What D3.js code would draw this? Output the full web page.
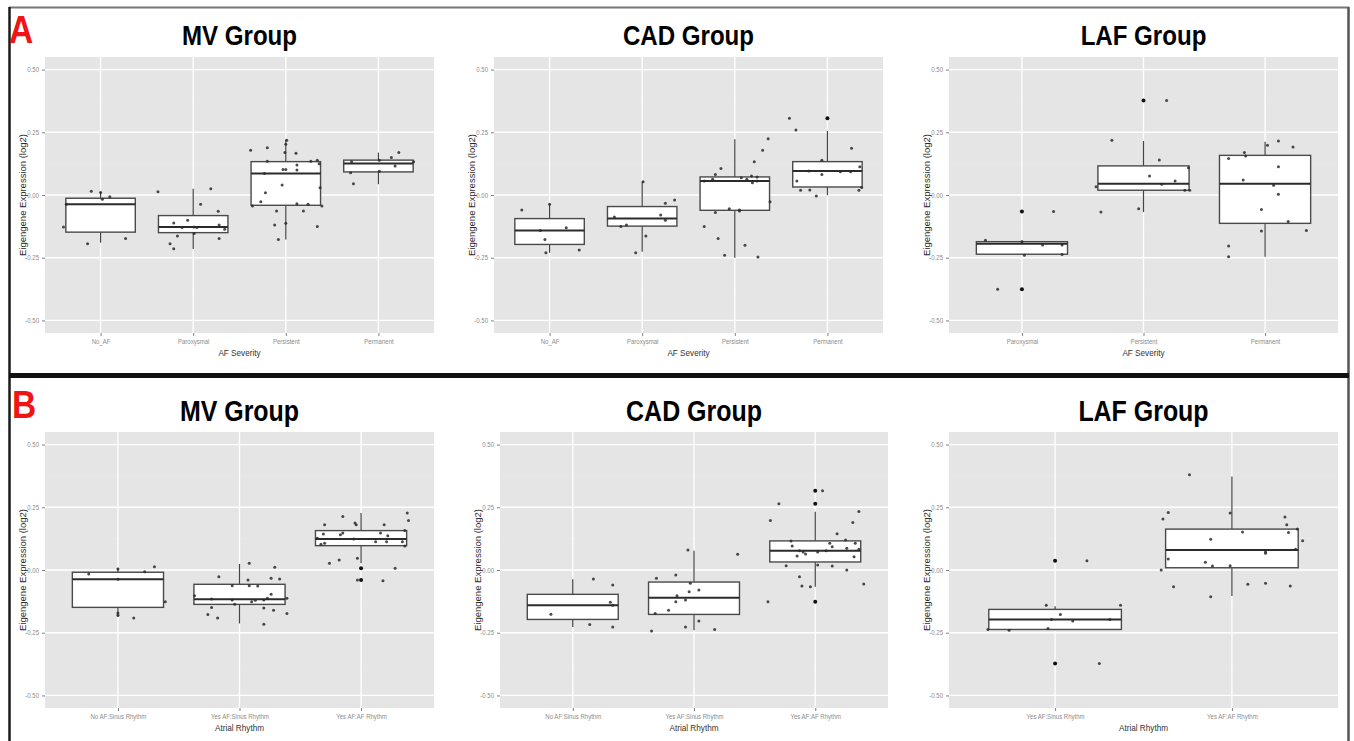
<!DOCTYPE html>
<html>
<head>
<meta charset="utf-8">
<script src="https://cdn.jsdelivr.net/npm/d3@7"></script>
<style>
body { margin: 0; background: #fff; }
svg text { font-family: "Liberation Sans", Arial, sans-serif; }
</style>
</head>
<body>
<div id="chart"></div>
<script>

// categories
var sevCats = ["No_AF", "Paroxysmal", "Persistent", "Permanent"];
var sevCatsLaf = ["Paroxysmal", "Persistent", "Permanent"];
var rhyCats = ["No AF:Sinus Rhythm", "Yes AF:Sinus Rhythm", "Yes AF:AF Rhythm"];
var rhyCatsLaf = ["Yes AF:Sinus Rhythm", "Yes AF:AF Rhythm"];
var yTicks = [-0.5, -0.25, 0, 0.25, 0.5];
var yMinor = [-0.375, -0.125, 0.125, 0.375];

// box stats per category: [lower whisker, q1, median, q3, upper whisker]
var aMvBox = [[-0.190, -0.148, -0.037, -0.013, 0.013], [-0.215, -0.150, -0.128, -0.082, 0.025],
  [-0.177, -0.041, 0.086, 0.133, 0.220], [0.043, 0.092, 0.126, 0.139, 0.169]];
var aCadBox = [[-0.230, -0.197, -0.141, -0.094, -0.037], [-0.226, -0.124, -0.094, -0.046, 0.053],
  [-0.250, -0.061, 0.056, 0.072, 0.222], [-0.001, 0.032, 0.096, 0.133, 0.255]];
var aLafBox = [[-0.236, -0.236, -0.194, -0.186, -0.180], [-0.068, 0.019, 0.045, 0.116, 0.215],
  [-0.246, -0.113, 0.045, 0.158, 0.212]];
var bMvBox = [[-0.187, -0.149, -0.037, -0.009, 0.009], [-0.213, -0.137, -0.117, -0.057, 0.024],
  [0.027, 0.097, 0.124, 0.157, 0.227]];
var bCadBox = [[-0.227, -0.197, -0.140, -0.097, -0.037], [-0.240, -0.177, -0.111, -0.048, 0.077],
  [-0.067, 0.032, 0.077, 0.116, 0.232]];
var bLafBox = [[-0.240, -0.237, -0.197, -0.157, -0.144], [-0.104, 0.009, 0.080, 0.163, 0.373]];

// outliers: [category index, value]
var aMvOut = [];
var aCadOut = [[3, 0.306]];
var aLafOut = [[0, -0.066], [0, -0.376], [1, 0.377]];
var bMvOut = [[2, 0.007], [2, -0.040]];
var bCadOut = [[2, 0.316], [2, 0.264], [2, -0.127]];
var bLafOut = [[0, 0.037], [0, -0.373]];

// jittered samples: [category index, jitter (in category steps), value]
var aMvPts = [
  [0,-0.10,0.015],[0,0.0,0.010],[0,0.02,-0.017],[0,0.10,-0.007],[0,-0.37,-0.037],[0,-0.40,-0.128],[0,-0.14,-0.194],[0,0.27,-0.173],
  [1,-0.38,0.013],[1,0.19,0.025],[1,0.08,-0.037],[1,0.27,-0.065],[1,-0.06,-0.101],[1,-0.21,-0.112],[1,-0.12,-0.130],[1,0.01,-0.128],
  [1,0.04,-0.130],[1,0.28,-0.120],[1,0.34,-0.137],[1,0.01,-0.153],[1,-0.17,-0.163],[1,-0.25,-0.194],[1,-0.21,-0.214],[1,0.28,-0.173],
  [2,0.01,0.218],[2,0.0,0.202],[2,-0.38,0.178],[2,-0.20,0.188],[2,-0.01,0.169],[2,0.11,0.166],[2,-0.20,0.135],[2,0.27,0.135],
  [2,0.34,0.138],[2,0.36,0.125],[2,-0.03,0.102],[2,0.0,0.102],[2,0.12,0.120],[2,0.12,0.100],[2,-0.23,0.086],[2,-0.04,0.040],
  [2,0.37,0.029],[2,-0.22,0.009],[2,-0.27,-0.027],[2,-0.36,-0.044],[2,0.12,-0.035],[2,0.24,-0.037],[2,0.39,-0.044],[2,-0.10,-0.064],
  [2,0.19,-0.064],[2,-0.12,-0.120],[2,0.0,-0.113],[2,0.34,-0.126],[2,-0.08,-0.177],
  [3,0.22,0.169],[3,0.14,0.149],[3,0.01,0.138],[3,-0.29,0.133],[3,0.38,0.133],[3,0.18,0.116],[3,-0.30,0.089],[3,0.01,0.095],[3,-0.27,0.045]
];
var aCadPts = [
  [0,-0.30,-0.060],[0,0.0,-0.037],[0,-0.10,-0.141],[0,0.18,-0.131],[0,-0.05,-0.177],[0,-0.04,-0.230],[0,0.32,-0.219],
  [1,0.01,0.053],[1,0.35,-0.020],[1,0.25,-0.033],[1,-0.30,-0.088],[1,0.20,-0.080],[1,0.25,-0.101],[1,-0.23,-0.126],[1,-0.17,-0.120],
  [1,0.04,-0.163],[1,-0.07,-0.230],
  [2,0.36,0.224],[2,0.30,0.178],[2,0.21,0.133],[2,-0.15,0.106],[2,-0.21,0.082],[2,-0.24,0.063],[2,-0.33,0.056],[2,0.07,0.069],
  [2,0.13,0.063],[2,0.18,0.076],[2,0.24,0.072],[2,0.24,0.056],[2,0.19,0.049],[2,0.38,-0.027],[2,-0.21,-0.070],[2,-0.06,-0.055],
  [2,0.05,-0.064],[2,0.05,-0.060],[2,-0.33,-0.126],[2,-0.18,-0.173],[2,0.11,-0.200],[2,-0.11,-0.240],[2,0.25,-0.247],
  [3,-0.41,0.306],[3,-0.34,0.259],[3,0.26,0.186],[3,-0.06,0.138],[3,-0.20,0.096],[3,-0.06,0.082],[3,0.14,0.093],[3,0.25,0.093],
  [3,0.35,0.113],[3,-0.33,0.056],[3,-0.29,0.019],[3,-0.19,0.020],[3,-0.12,-0.004],[3,0.34,0.019],[3,0.37,0.030]
];
var aLafPts = [
  [0,0.26,-0.066],[0,-0.30,-0.180],[0,0.0,-0.186],[0,0.17,-0.199],[0,0.33,-0.199],[0,0.02,-0.240],[0,0.33,-0.237],[0,-0.20,-0.376],
  [1,0.19,0.377],[1,-0.26,0.218],[1,0.13,0.139],[1,0.37,0.109],[1,0.05,0.076],[1,0.26,0.056],[1,0.15,0.043],[1,-0.39,0.033],
  [1,0.34,0.019],[1,0.38,0.019],[1,-0.35,-0.068],[1,-0.04,-0.055],
  [2,0.02,0.198],[2,0.11,0.215],[2,0.23,0.191],[2,-0.17,0.169],[2,-0.16,0.155],[2,-0.30,0.145],[2,0.11,0.113],[2,-0.18,0.060],
  [2,0.07,0.039],[2,0.11,0.003],[2,-0.03,-0.058],[2,0.19,-0.106],[2,-0.03,-0.143],[2,0.34,-0.141],[2,-0.30,-0.203],[2,-0.30,-0.246]
];
var bMvPts = [
  [0,-0.24,-0.016],[0,0.0,0.004],[0,0.22,-0.007],[0,0.30,0.013],[0,0.0,-0.037],[0,0.39,-0.127],[0,0.0,-0.171],[0,0.0,-0.180],[0,0.13,-0.191],
  [1,0.08,0.027],[1,0.29,0.011],[1,-0.17,-0.027],[1,0.07,-0.040],[1,0.26,-0.033],[1,0.33,-0.036],[1,-0.06,-0.063],[1,0.08,-0.063],
  [1,0.15,-0.064],[1,0.26,-0.097],[1,-0.37,-0.103],[1,-0.23,-0.116],[1,-0.06,-0.120],[1,0.10,-0.127],[1,0.13,-0.121],[1,0.20,-0.120],
  [1,0.23,-0.113],[1,0.39,-0.113],[1,-0.04,-0.137],[1,-0.23,-0.149],[1,0.20,-0.151],[1,0.28,-0.160],[1,-0.26,-0.177],[1,-0.18,-0.191],
  [1,0.39,-0.173],[1,0.20,-0.216],
  [2,0.38,0.227],[2,0.39,0.197],[2,-0.15,0.213],[2,-0.30,0.180],[2,-0.05,0.187],[2,-0.04,0.180],[2,0.19,0.180],[2,-0.31,0.143],
  [2,-0.15,0.147],[2,-0.17,0.140],[2,0.16,0.147],[2,0.22,0.137],[2,0.36,0.157],[2,-0.36,0.127],[2,-0.06,0.124],[2,0.12,0.113],
  [2,0.21,0.113],[2,0.34,0.113],[2,-0.33,0.103],[2,-0.30,0.107],[2,0.36,0.096],[2,-0.03,0.047],[2,-0.18,0.040],[2,-0.26,0.027],
  [2,0.28,0.007],[2,-0.03,-0.040],[2,0.18,-0.043]
];
var bCadPts = [
  [0,0.17,-0.036],[0,0.33,-0.060],[0,0.31,-0.129],[0,0.33,-0.140],[0,-0.18,-0.176],[0,0.14,-0.217],[0,0.33,-0.227],
  [1,-0.05,0.080],[1,0.36,0.063],[1,-0.31,-0.033],[1,-0.15,-0.020],[1,-0.03,-0.053],[1,0.04,-0.080],[1,-0.04,-0.087],[1,-0.14,-0.103],
  [1,-0.07,-0.120],[1,-0.15,-0.127],[1,-0.21,-0.160],[1,-0.32,-0.173],[1,0.04,-0.203],[1,-0.07,-0.227],[1,-0.35,-0.243],[1,0.17,-0.237],
  [2,0.06,0.316],[2,-0.30,0.264],[2,-0.37,0.197],[2,0.36,0.233],[2,0.31,0.189],[2,0.18,0.144],[2,0.25,0.120],[2,-0.20,0.116],
  [2,-0.19,0.096],[2,0.12,0.107],[2,0.33,0.107],[2,0.14,0.093],[2,0.26,0.087],[2,0.36,0.083],[2,-0.13,0.077],[2,-0.10,0.072],
  [2,0.09,0.077],[2,0.02,0.072],[2,-0.15,0.056],[2,-0.08,0.064],[2,0.32,0.053],[2,-0.24,0.017],[2,0.02,0.020],[2,0.14,0.016],
  [2,0.26,0.000],[2,-0.13,-0.027],[2,-0.11,-0.064],[2,-0.04,-0.067],[2,0.40,-0.056],[2,-0.39,-0.127]
];
var bLafPts = [
  [0,0.18,0.037],[0,0.25,-0.373],[0,-0.05,-0.140],[0,0.37,-0.140],[0,0.03,-0.177],[0,-0.02,-0.197],[0,0.10,-0.203],[0,0.31,-0.197],
  [0,-0.04,-0.233],[0,-0.26,-0.240],[0,-0.38,-0.237],
  [1,-0.24,0.380],[1,-0.36,0.229],[1,-0.39,0.203],[1,-0.01,0.227],[1,0.30,0.211],[1,0.31,0.180],[1,0.37,0.163],[1,0.32,0.149],
  [1,0.06,0.151],[1,0.40,0.117],[1,-0.12,0.123],[1,0.36,0.083],[1,0.19,0.073],[1,0.19,0.067],[1,-0.36,0.044],[1,-0.15,0.031],
  [1,-0.11,0.016],[1,-0.01,0.017],[1,-0.40,0.000],[1,-0.33,-0.067],[1,0.09,-0.057],[1,0.19,-0.053],[1,0.33,-0.064],[1,-0.12,-0.107]
];

var rows = [
  {top: 57, bottom: 333, titleY: 45, titleSize: 28, letter: "A", letterX: 9, letterY: 43, xTitle: "AF Severity", xTitleY: 356},
  {top: 432, bottom: 708, titleY: 421, titleSize: 29, letter: "B", letterX: 12, letterY: 418, xTitle: "Atrial Rhythm", xTitleY: 731}
];

var panels = [
  {row: 0, left: 45, right: 434, title: "MV Group", cats: sevCats, box: aMvBox, out: aMvOut, pts: aMvPts},
  {row: 0, left: 494, right: 883, title: "CAD Group", cats: sevCats, box: aCadBox, out: aCadOut, pts: aCadPts},
  {row: 0, left: 949, right: 1338, title: "LAF Group", cats: sevCatsLaf, box: aLafBox, out: aLafOut, pts: aLafPts},
  {row: 1, left: 45, right: 434, title: "MV Group", cats: rhyCats, box: bMvBox, out: bMvOut, pts: bMvPts},
  {row: 1, left: 500, right: 888, title: "CAD Group", cats: rhyCats, box: bCadBox, out: bCadOut, pts: bCadPts},
  {row: 1, left: 949, right: 1338, title: "LAF Group", cats: rhyCatsLaf, box: bLafBox, out: bLafOut, pts: bLafPts}
];

var svg = d3.select("#chart").append("svg")
  .attr("width", 1354)
  .attr("height", 741);

panels.forEach(drawPanel);

// frame round the figure and the bar between A and B
svg.append("line").attr("x1", 9).attr("x2", 1349).attr("y1", 7.5).attr("y2", 7.5)
  .attr("stroke", "#777").attr("stroke-width", 2);
svg.append("line").attr("x1", 9.5).attr("x2", 9.5).attr("y1", 7).attr("y2", 741)
  .attr("stroke", "#1a1a1a").attr("stroke-width", 2.5);
svg.append("line").attr("x1", 1348.5).attr("x2", 1348.5).attr("y1", 7).attr("y2", 741)
  .attr("stroke", "#555").attr("stroke-width", 2.5);
svg.append("line").attr("x1", 9).attr("x2", 1349).attr("y1", 375.5).attr("y2", 375.5)
  .attr("stroke", "#111").attr("stroke-width", 5);

rows.forEach(function(r) {
  svg.append("text")
    .attr("class", "sq")
    .attr("x", r.letterX)
    .attr("y", r.letterY)
    .attr("fill", "#f01414")
    .style("font-size", "39px")
    .style("font-weight", "bold")
    .text(r.letter);
});

// the source picture is squeezed sideways a little
svg.selectAll("text.sq").each(function() {
  var len = this.getComputedTextLength();
  d3.select(this).attr("textLength", len * 0.86).attr("lengthAdjust", "spacingAndGlyphs");
});

function drawPanel(p) {
  var r = rows[p.row];
  var x = d3.scalePoint().domain(p.cats).range([p.left, p.right]).padding(0.6);
  var y = d3.scaleLinear().domain([-0.55, 0.55]).range([r.bottom, r.top]);
  var step = x.step(), bw = step * 0.75;
  var g = svg.append("g");

  g.append("rect")
    .attr("x", p.left).attr("y", r.top)
    .attr("width", p.right - p.left).attr("height", r.bottom - r.top)
    .attr("fill", "#e5e5e5");

  g.selectAll(".minor").data(yMinor).enter().append("line")
    .attr("x1", p.left).attr("x2", p.right)
    .attr("y1", function(d) { return y(d); }).attr("y2", function(d) { return y(d); })
    .attr("stroke", "#eaeaea").attr("stroke-width", 0.6);
  g.selectAll(".major").data(yTicks).enter().append("line")
    .attr("x1", p.left).attr("x2", p.right)
    .attr("y1", function(d) { return y(d); }).attr("y2", function(d) { return y(d); })
    .attr("stroke", "#fff").attr("stroke-width", 1.3);
  g.selectAll(".vgrid").data(p.cats).enter().append("line")
    .attr("x1", function(d) { return x(d); }).attr("x2", function(d) { return x(d); })
    .attr("y1", r.top).attr("y2", r.bottom)
    .attr("stroke", "#fff").attr("stroke-width", 1.3);

  var ya = g.append("g")
    .attr("transform", "translate(" + p.left + ",0)")
    .call(d3.axisLeft(y).tickValues(yTicks).tickFormat(function(d) { return d.toFixed(2); })
      .tickSize(3).tickPadding(3));
  ya.select(".domain").remove();
  ya.selectAll("line").attr("stroke", "#808080");
  ya.selectAll("text").attr("class", "sq").attr("fill", "#8c8c8c")
    .style("font-size", "7px").style("font-family", "'Liberation Sans', Arial, sans-serif");

  var xa = g.append("g")
    .attr("transform", "translate(0," + r.bottom + ")")
    .call(d3.axisBottom(x).tickSize(3).tickPadding(3));
  xa.select(".domain").remove();
  xa.selectAll("line").attr("stroke", "#808080");
  xa.selectAll("text").attr("class", "sq").attr("fill", "#8c8c8c")
    .style("font-size", "7px").style("font-family", "'Liberation Sans', Arial, sans-serif");

  // whiskers, boxes, medians
  p.box.forEach(function(b, i) {
    var cx = x(p.cats[i]);
    g.append("line").attr("x1", cx).attr("x2", cx).attr("y1", y(b[4])).attr("y2", y(b[3]))
      .attr("stroke", "#444").attr("stroke-width", 1.2);
    g.append("line").attr("x1", cx).attr("x2", cx).attr("y1", y(b[1])).attr("y2", y(b[0]))
      .attr("stroke", "#444").attr("stroke-width", 1.2);
    g.append("rect")
      .attr("x", cx - bw / 2).attr("y", y(b[3]))
      .attr("width", bw).attr("height", Math.max(0.5, y(b[1]) - y(b[3])))
      .attr("fill", "#fff").attr("stroke", "#4a4a4a").attr("stroke-width", 1.4);
    g.append("line").attr("x1", cx - bw / 2).attr("x2", cx + bw / 2)
      .attr("y1", y(b[2])).attr("y2", y(b[2]))
      .attr("stroke", "#2b2b2b").attr("stroke-width", 2);
  });

  g.selectAll(".outlier").data(p.out).enter().append("circle")
    .attr("cx", function(d) { return x(p.cats[d[0]]); })
    .attr("cy", function(d) { return y(d[1]); })
    .attr("r", 2)
    .attr("fill", "#111");

  g.selectAll(".pt").data(p.pts).enter().append("circle")
    .attr("cx", function(d) { return x(p.cats[d[0]]) + d[1] * step; })
    .attr("cy", function(d) { return y(d[2]); })
    .attr("r", 1.5)
    .attr("fill", "#2a2a2a")
    .attr("opacity", 0.85);

  g.append("text")
    .attr("class", "sq")
    .attr("x", (p.left + p.right) / 2).attr("y", r.titleY)
    .attr("text-anchor", "middle")
    .style("font-size", r.titleSize + "px").style("font-weight", "bold")
    .attr("fill", "#000")
    .text(p.title);

  g.append("text")
    .attr("class", "sq")
    .attr("x", (p.left + p.right) / 2).attr("y", r.xTitleY)
    .attr("text-anchor", "middle")
    .style("font-size", "9.5px")
    .attr("fill", "#333")
    .text(r.xTitle);

  g.append("text")
    .attr("transform", "translate(" + (p.left - 19.5) + "," + ((r.top + r.bottom) / 2) + ") rotate(-90)")
    .attr("text-anchor", "middle")
    .style("font-size", "9.5px")
    .attr("fill", "#2a2a2a")
    .text("Eigengene Expression (log2)");
}
</script>
</body>
</html>
